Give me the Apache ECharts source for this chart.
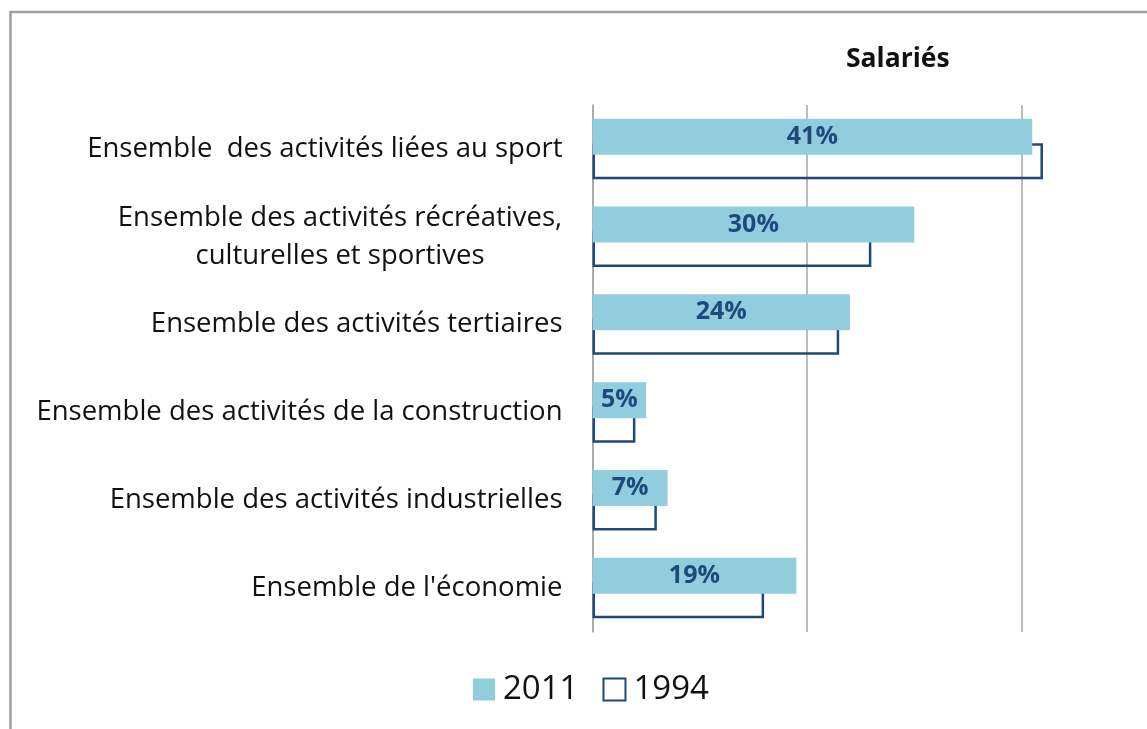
<!DOCTYPE html>
<html>
<head>
<meta charset="utf-8">
<script src="https://cdn.jsdelivr.net/npm/echarts@6/dist/echarts.min.js"></script>
<style>
  html, body { margin: 0; padding: 0; background: #fff; }
  #main { width: 1147px; height: 729px; }
</style>
</head>
<body>
<div id="main"></div>
<script>
// données (part en %)
var categories = [
    'Ensemble  des activités liées au sport',
    'Ensemble des activités récréatives,\nculturelles et sportives',
    'Ensemble des activités tertiaires',
    'Ensemble des activités de la construction',
    'Ensemble des activités industrielles',
    "Ensemble de l'économie"
];
var values2011 = [41, 30, 24, 5, 7, 19];
var values1994 = [42, 26, 23, 4, 6, 16];
var seriesNames = ['2011', '1994'];
var chartTitle = 'Salariés';

var FONT = '"Open Sans", Lato, sans-serif';
var lightBlue = '#92CDDD';
var darkBlue = '#1F497D';
var labelSize = 27.5;

// largeur d'un texte, pour centrer les lignes du libellé sur 2 lignes
function textWidth(s, size) {
    var ctx = document.createElement('canvas').getContext('2d');
    ctx.font = size + 'px ' + FONT;
    return Math.ceil(ctx.measureText(s).width);
}

var myChart = echarts.init(document.getElementById('main'));

var option = {
    backgroundColor: '#fff',
    animation: false,
    title: {
        text: chartTitle,
        left: 841,
        top: 41,
        textStyle: {
            fontFamily: FONT,
            fontSize: 26.5,
            fontWeight: 'bold',
            color: '#111'
        }
    },
    legend: {
        left: 468,
        top: 668,
        itemWidth: 22,
        itemHeight: 22,
        itemGap: 24,
        icon: 'rect',
        textStyle: {
            fontFamily: FONT,
            fontSize: 33,
            color: '#111',
            padding: [0, 0, 0, 3]
        },
        data: seriesNames
    },
    grid: {
        left: 592.5,
        right: 0,
        top: 105,
        bottom: 97,
        containLabel: false
    },
    xAxis: {
        type: 'value',
        min: 0,
        max: 51.7,   // 20 % = 215 px
        interval: 20,
        axisLine: { show: false },
        axisTick: { show: false },
        axisLabel: { show: false },
        splitLine: {
            showMaxLine: false,
            lineStyle: { color: '#A6A6A6', width: 1.5 }
        }
    },
    yAxis: {
        type: 'category',
        inverse: true,
        data: categories,
        axisTick: { show: false },
        axisLine: { lineStyle: { color: '#A6A6A6', width: 1.5 } },
        axisLabel: {
            margin: 30,
            fontFamily: FONT,
            fontSize: labelSize,
            color: '#111',
            lineHeight: 38,
            formatter: function (v) {
                if (v.indexOf('\n') >= 0) {
                    return v.split('\n').map(function (s) { return '{c|' + s + '}'; }).join('\n');
                }
                return v;
            },
            rich: {
                c: {
                    width: textWidth('Ensemble des activités récréatives,', labelSize),
                    align: 'center',
                    fontFamily: FONT,
                    fontSize: labelSize,
                    color: '#111',
                    lineHeight: 38
                }
            }
        }
    },
    series: [
        {
            name: seriesNames[0],
            type: 'bar',
            z: 3,
            barWidth: 36,
            barGap: '-32%',
            itemStyle: { color: lightBlue },
            label: {
                show: true,
                position: 'inside',
                formatter: '{c}%',
                fontFamily: FONT,
                fontSize: 25,
                fontWeight: 'bold',
                color: darkBlue
            },
            data: values2011
        },
        {
            name: seriesNames[1],
            type: 'bar',
            z: 2,
            barWidth: 36,
            itemStyle: {
                color: 'rgba(255,255,255,0)',
                borderColor: darkBlue,
                borderWidth: 2.5
            },
            data: values1994
        }
    ],
    graphic: [
        {
            type: 'rect',
            silent: true,
            shape: { x: 10.5, y: 12, width: 1200, height: 800 },
            style: { fill: 'none', stroke: '#9E9E9E', lineWidth: 2.5 }
        }
    ]
};

myChart.setOption(option);
window.addEventListener('resize', function () {
    myChart.resize();
});
</script>
</body>
</html>
